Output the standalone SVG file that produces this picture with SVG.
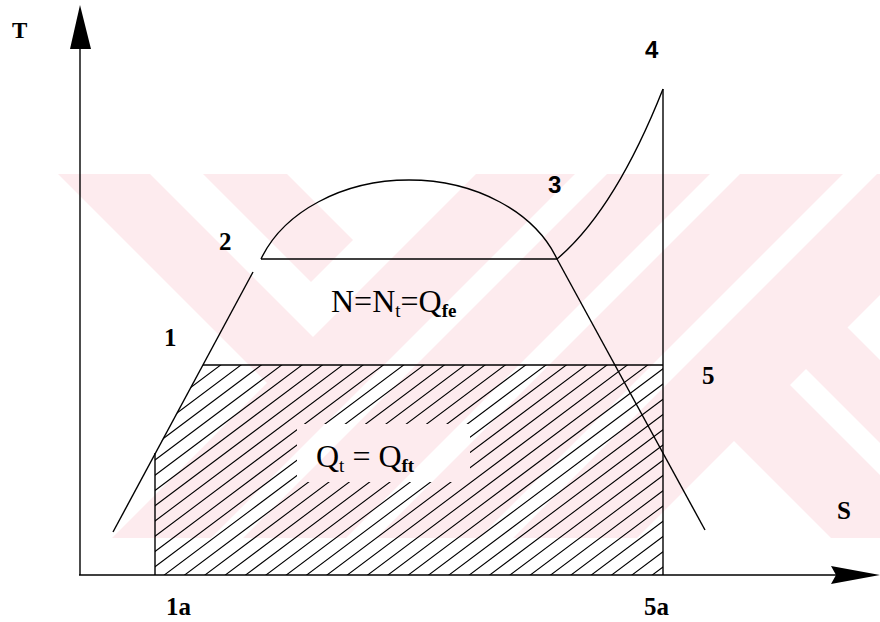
<svg xmlns="http://www.w3.org/2000/svg" width="880" height="622" viewBox="0 0 880 622">
<style>
.wm{fill:#fdebee;stroke:none}
.wh{fill:#fff;stroke:none}
.ln{fill:none;stroke:#000;stroke-width:1.4}
.ht{fill:none;stroke:#000;stroke-width:1.1}
</style>
<defs>
<clipPath id="band"><rect x="58" y="174" width="822" height="364"/></clipPath>
<clipPath id="hc"><polygon points="203,365 663,365 663,575 155,575 155,453"/></clipPath>
<mask id="gap" maskUnits="userSpaceOnUse" x="0" y="0" width="880" height="622">
<rect x="0" y="0" width="880" height="622" fill="#fff"/>
<rect x="297" y="424" width="173" height="58" fill="#000"/>
</mask>
</defs>
<rect width="880" height="622" fill="#fff"/>
<g id="watermark" clip-path="url(#band)">
<polygon class="wm" points="476,174 880,174 880,538 112,538"/>
<polygon class="wm" points="58,174 150,174 514,538 422,538"/>
<polygon class="wm" points="203,174 287,174 353,240 311,282"/>
<polygon class="wh" points="575,174 607,174 243,538 211,538"/>
<polygon class="wh" points="710,174 740,174 376,538 346,538"/>
<polygon class="wh" points="843,174 877,174 513,538 479,538"/>
<polygon class="wh" points="847.5,327.5 880,295 880,360"/>
<polygon class="wh" points="779,396 806,369 880,443 880,475 790,385"/>
<polygon class="wh" points="734,441 831,538 637,538"/>
</g>
<g id="hatching" clip-path="url(#hc)">
<path class="ht" mask="url(#gap)" d="M150,402.75L670,12.75M150,418L670,28M150,433.25L670,43.25M150,448.5L670,58.5M150,463.75L670,73.75M150,479L670,89M150,494.25L670,104.25M150,509.5L670,119.5M150,524.75L670,134.75M150,540L670,150M150,555.25L670,165.25M150,570.5L670,180.5M150,585.75L670,195.75M150,601L670,211M150,616.25L670,226.25M150,631.5L670,241.5M150,646.75L670,256.75M150,662L670,272M150,677.25L670,287.25M150,692.5L670,302.5M150,707.75L670,317.75M150,723L670,333M150,738.25L670,348.25M150,753.5L670,363.5M150,768.75L670,378.75M150,784L670,394M150,799.25L670,409.25M150,814.5L670,424.5M150,829.75L670,439.75M150,845L670,455M150,860.25L670,470.25M150,875.5L670,485.5M150,890.75L670,500.75M150,906L670,516M150,921.25L670,531.25M150,936.5L670,546.5M150,951.75L670,561.75M150,967L670,577"/>
</g>
<g id="axes">
<line class="ln" x1="80" y1="575" x2="80" y2="40"/>
<polygon points="80,5 91,49 70,49" fill="#000"/>
<line class="ln" x1="79" y1="575" x2="840" y2="575"/>
<polygon points="831,566 880,575 831,584 836,575" fill="#000"/>
</g>
<g id="connectors">
<path class="ln" d="M113,532 L253,272"/>
<path class="ln" d="M261,259 A157.5 120 0 0 1 557,259"/>
<path class="ln" d="M261,259 L557,259"/>
<path class="ln" d="M557,259 L705,530"/>
<path class="ln" d="M557,259 Q615,210 663,89"/>
<path class="ln" d="M663,89 L663,575"/>
<path class="ln" d="M203,365 L663,365"/>
<path class="ln" d="M155,453 L155,575"/>
</g>
<g id="labels" font-family="'Liberation Serif','Times New Roman','DejaVu Serif',serif" font-weight="bold" font-size="25" fill="#000">
<text x="12" y="38" font-size="23">T</text>
<text x="219" y="250">2</text>
<text x="164" y="346">1</text>
<text x="702" y="384">5</text>
<text x="837" y="519">S</text>
<text x="166" y="615">1a</text>
<text x="644" y="615">5a</text>
</g>
<g id="labels-sans" font-family="'Liberation Sans',Arial,sans-serif" font-weight="bold" font-size="24" fill="#000">
<text x="645" y="58">4</text>
<text x="548" y="193">3</text>
</g>
<g id="eq1" font-family="'Liberation Serif','Times New Roman','DejaVu Serif',serif" font-size="32" fill="#000">
<text x="331" y="312">N=N<tspan font-size="19" dy="5">t</tspan><tspan dy="-5">=Q</tspan><tspan font-size="19" font-weight="bold" dy="5">fe</tspan></text>
</g>
<g id="eq2" font-family="'Liberation Serif','Times New Roman','DejaVu Serif',serif" font-size="32" fill="#000">
<text x="316" y="467">Q<tspan font-size="19" dy="5">t</tspan><tspan dy="-5"> = Q</tspan><tspan font-size="19" font-weight="bold" dy="5">ft</tspan></text>
</g>
</svg>
